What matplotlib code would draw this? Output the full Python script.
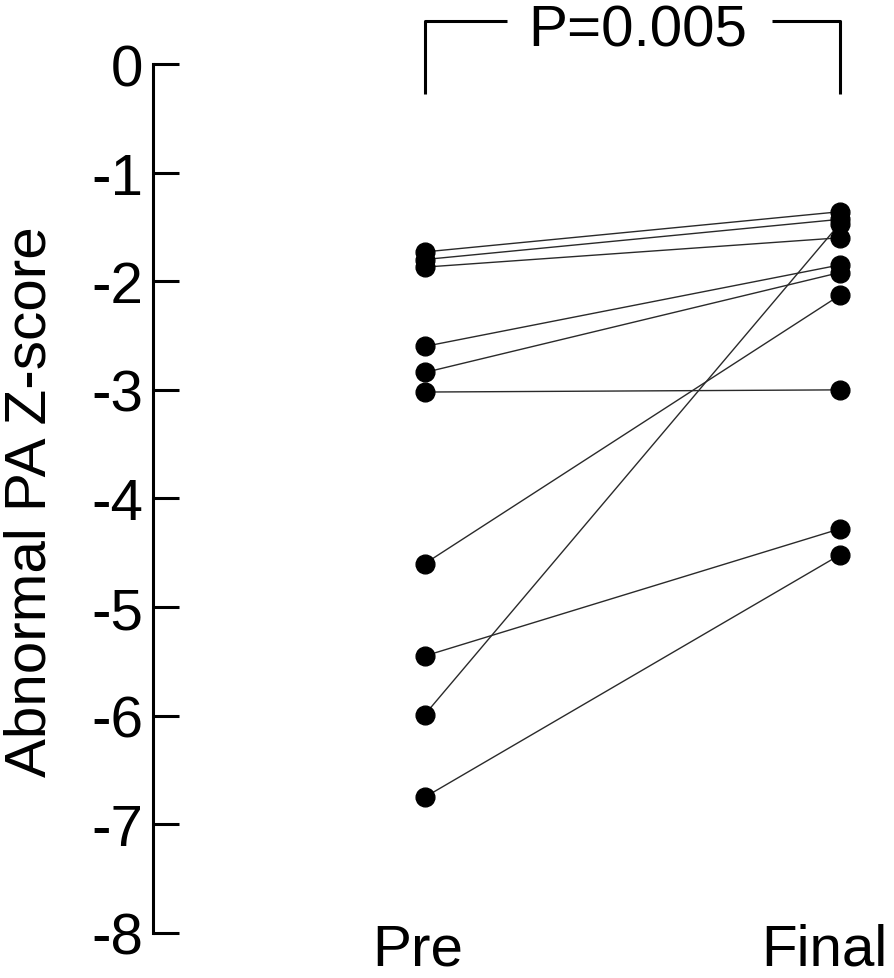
import matplotlib
matplotlib.use("Agg")
import matplotlib.pyplot as plt
import matplotlib.transforms as mtransforms

plt.rcParams['font.family'] = ['Liberation Sans', 'DejaVu Sans']

# Data
groups = ["Pre", "Final"]
pre = [-1.73, -1.80, -1.87, -2.60, -2.84, -3.02, -4.60, -5.45, -5.99, -6.75]
final = [-1.36, -1.43, -1.60, -1.85, -1.92, -3.00, -2.13, -4.28, -1.47, -4.52]
y_ticks = [0, -1, -2, -3, -4, -5, -6, -7, -8]
p_text = "P=0.005"

fig = plt.figure(figsize=(8.94, 9.79), dpi=100)
ax = fig.add_axes([0.1711, 0.046, 0.829, 0.8876])

# paired lines + points
for a, b in zip(pre, final):
    ax.plot([0, 1], [a, b], color="#2a2a2a", lw=1.0, zorder=2)
ax.plot([0] * len(pre), pre, "o", color="black", ms=13.5, zorder=3)
ax.plot([1] * len(final), final, "o", color="black", ms=13.5, zorder=3)

ax.set_xlim(-0.655, 1.131)
ax.set_ylim(-8, 0)
ax.set_yticks(y_ticks)
ax.set_yticklabels([str(t) for t in y_ticks], fontsize=42)
ax.tick_params(axis="y", direction="in", length=19, width=2.2, pad=7)
ax.set_xticks([])

for s in ["top", "right", "bottom"]:
    ax.spines[s].set_visible(False)
ax.spines["left"].set_linewidth(2.2)

# group labels below axis
trans = mtransforms.blended_transform_factory(ax.transData, fig.transFigure)
for x, lab in zip([-0.017, 0.964], groups):
    ax.text(x, 0.002, lab, transform=trans, ha="center", va="bottom",
            fontsize=42)

# significance bracket
yb, yl = 0.396, -0.276
kw = dict(color="black", lw=2.2, clip_on=False, solid_capstyle="butt")
ax.plot([0, 0, 0.198], [yl, yb, yb], **kw)
ax.plot([0.836, 1, 1], [yb, yb, yl], **kw)
ax.text(0.513, 0.166, p_text, ha="center", va="baseline", fontsize=42)

fig.text(0.004, 0.488, "Abnormal PA Z-score", rotation=90, ha="left",
         va="center", fontsize=42)

fig.savefig("out.png", dpi=100)
